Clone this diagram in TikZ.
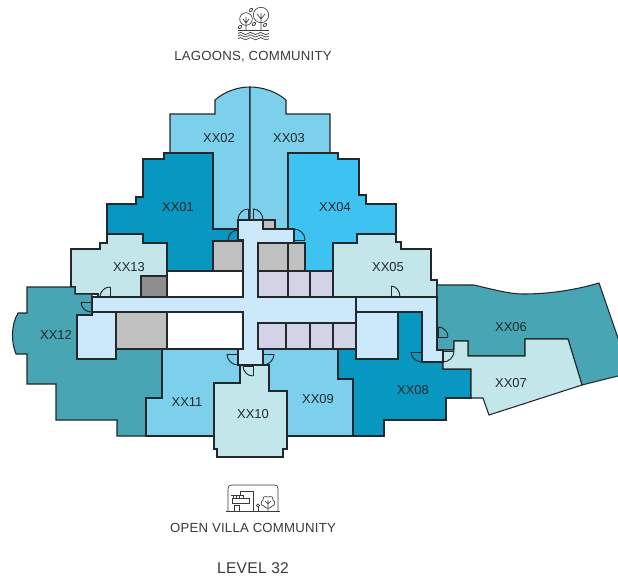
\documentclass[tikz,border=0pt]{standalone}
\usepackage{fontspec}
\setmainfont{Liberation Sans}
\newfontface\capfont[LetterSpace=1.6]{Liberation Sans}
\definecolor{cA}{HTML}{7DD0EC}
\definecolor{cB}{HTML}{0797C1}
\definecolor{cC}{HTML}{3EC2F2}
\definecolor{cD}{HTML}{C2E6E9}
\definecolor{cE}{HTML}{47A5B4}
\definecolor{cF}{HTML}{CBE9FB}
\definecolor{cG}{HTML}{C0C0C0}
\definecolor{cH}{HTML}{8F8C8D}
\definecolor{cI}{HTML}{D2D3E7}
\definecolor{ink}{HTML}{22282B}
\definecolor{txt}{HTML}{3A3A3A}
\tikzset{
  room/.style={draw=ink,line width=0.8pt,line join=miter},
  unitlabel/.style={font=\fontsize{9.7pt}{11pt}\selectfont,text=ink,inner sep=0pt},
  caption/.style={font=\capfont\fontsize{9.9pt}{11pt}\selectfont,text=txt,inner sep=0pt,text depth=0pt},
  icon/.style={draw=txt,line width=0.5pt},
  doorline/.style={draw=ink,line width=0.7pt}
}
\newcommand{\doorq}[6]{%
  \pgfmathsetmacro{\pax}{#3+0.55*(#5-#1)}\pgfmathsetmacro{\pay}{#4+0.55*(#6-#2)}%
  \pgfmathsetmacro{\pbx}{#5+0.55*(#3-#1)}\pgfmathsetmacro{\pby}{#6+0.55*(#4-#2)}%
  \draw[doorline] (#3,#4) -- (#1,#2) -- (#5,#6);
  \draw[doorline] (#3,#4) .. controls (\pax,\pay) and (\pbx,\pby) .. (#5,#6);
}
\begin{document}
\begin{tikzpicture}[x=0.75pt,y=-0.75pt]
\useasboundingbox (0,0) rectangle (618,579);
\clip (0,0) rectangle (618,579);
% units
\draw[room,fill=cA] (250,87) .. controls (237,87) and (224,92) .. (215,100) -- (215,114) -- (170,114) -- (170,153) -- (213,153) -- (213,229) -- (238,229) -- (238,220) -- (250,220) -- cycle;
\draw[room,fill=cA] (250,87) .. controls (263,87) and (277,92) .. (286,100) -- (286,114) -- (330,114) -- (330,153) -- (288,153) -- (288,229) -- (263,229) -- (263,220) -- (250,220) -- cycle;
\draw[room,fill=cB] (164,153) -- (164,159) -- (143,159) -- (143,197) -- (136,197) -- (136,204) -- (107,204) -- (107,234) -- (143,234) -- (143,243) -- (167,243) -- (167,271) -- (213,271) -- (213,241) -- (238,241) -- (238,229) -- (213,229) -- (213,153) -- cycle;
\draw[room,fill=cC] (288,153) -- (338,153) -- (338,159) -- (359,159) -- (359,195) -- (366,195) -- (366,204) -- (396,204) -- (396,234) -- (357,234) -- (357,243) -- (333,243) -- (333,271) -- (305,271) -- (305,243) -- (294,243) -- (294,229) -- (288,229) -- cycle;
\draw[room,fill=cD] (107,234) -- (143,234) -- (143,243) -- (167,243) -- (167,297) -- (98,297) -- (98,294) -- (75,294) -- (75,287) -- (71,287) -- (71,249) -- (100,249) -- (100,243) -- (107,243) -- cycle;
\draw[room,fill=cD] (333,297) -- (333,243) -- (357,243) -- (357,234) -- (396,234) -- (396,242) -- (401,242) -- (401,249) -- (431,249) -- (431,280) -- (437,280) -- (437,297) -- cycle;
\draw[room,fill=cE] (27,287) -- (75,287) -- (75,294) -- (92,294) -- (92,315) -- (77,315) -- (77,359) -- (116,359) -- (116,349) -- (162,349) -- (162,398) -- (146,398) -- (146,436) -- (117,436) -- (117,420) -- (56,420) -- (56,384) -- (27,384) -- (27,354) -- (16,354) .. controls (11,342) and (11,325) .. (18,313) -- (27,313) -- cycle;
\draw[room,fill=cA] (162,349) -- (238,349) -- (238,365) -- (240,365) -- (240,383) -- (214,383) -- (214,436) -- (146,436) -- (146,398) -- (162,398) -- cycle;
\draw[room,fill=cA] (263,349) -- (338,349) -- (338,379) -- (353,379) -- (353,436) -- (287,436) -- (287,391) -- (269,391) -- (269,365) -- (263,365) -- cycle;
\draw[room,fill=cD] (240,365) -- (240,383) -- (214,383) -- (214,449) -- (217,449) -- (217,457) -- (283,457) -- (283,449) -- (287,449) -- (287,391) -- (269,391) -- (269,365) -- cycle;
\draw[room,fill=cB] (338,349) -- (356,349) -- (356,359) -- (398,359) -- (398,312) -- (422,312) -- (422,362) -- (443,362) -- (443,369) -- (471,369) -- (471,398) -- (446,398) -- (446,420) -- (384,420) -- (384,436) -- (353,436) -- (353,379) -- (338,379) -- cycle;
\draw[room,fill=cE] (437,285) -- (474,285) .. controls (495,290) and (510,294) .. (523,294) .. controls (550,294) and (575,290) .. (599,283) -- (618,338) -- (630,373) -- (582,385) -- (568,339) -- (525,339) -- (525,356) -- (468,356) -- (468,341) -- (454,341) -- (454,350) -- (437,350) -- cycle;
\draw[room,fill=cD] (443,350) -- (454,350) -- (454,341) -- (468,341) -- (468,356) -- (525,356) -- (525,339) -- (568,339) -- (582,385) -- (489,415) -- (483,398) -- (471,398) -- (471,369) -- (443,369) -- cycle;
% service rooms
\draw[room,fill=cG] (213,241) rectangle (243,271);
\draw[room,fill=cG] (263,220) rectangle (275,229);
\draw[room,fill=cG] (258,243) rectangle (288,271);
\draw[room,fill=cG] (288,243) rectangle (305,271);
\draw[room,fill=cH] (141,276) rectangle (167,297);
\draw[room,fill=cG] (116,312) rectangle (167,349);
\draw[room,fill=white] (167,271) rectangle (243,297);
\draw[room,fill=white] (167,312) rectangle (243,349);
\draw[room,fill=cI] (258,271) rectangle (288,297);
\draw[room,fill=cI] (288,271) rectangle (310,297);
\draw[room,fill=cI] (310,271) rectangle (333,297);
\draw[room,fill=cI] (258,323) rectangle (286,349);
\draw[room,fill=cI] (286,323) rectangle (310,349);
\draw[room,fill=cI] (310,323) rectangle (333,349);
\draw[room,fill=cI] (333,323) rectangle (356,349);
% corridor
\draw[room,fill=cF] (92,297) -- (243,297) -- (243,240) -- (238,240) -- (238,220) -- (263,220) -- (263,229) -- (294,229) -- (294,243) -- (258,243) -- (258,297) -- (437,297) -- (437,350) -- (443,350) -- (443,362) -- (422,362) -- (422,312) -- (356,312) -- (356,323) -- (258,323) -- (258,349) -- (263,349) -- (263,365) -- (238,365) -- (238,349) -- (243,349) -- (243,312) -- (92,312) -- cycle;
\draw[room] (356,297) -- (356,312);
\draw[room,fill=cF] (77,315) -- (92,315) -- (92,312) -- (116,312) -- (116,359) -- (77,359) -- cycle;
\draw[room,fill=cF] (356,312) rectangle (398,359);
% doors
\doorq{248}{220}{248}{209}{238}{220}
\doorq{253}{220}{253}{209}{263}{220}
\doorq{238}{240}{238}{230}{228}{240}
\doorq{294}{240}{294}{229}{305}{240}
\doorq{110}{297}{110}{287}{100}{297}
\doorq{391}{297}{391}{286}{400}{297}
\doorq{91}{302}{81}{302}{91}{312}
\doorq{238}{354}{227}{354}{238}{365}
\doorq{263}{354}{274}{354}{263}{365}
\doorq{253}{366}{253}{376}{243}{366}
\doorq{422}{352}{411}{352}{422}{362}
\doorq{443}{351}{454}{351}{443}{362}
\doorq{438}{337}{438}{327}{448}{337}
% labels
\node[unitlabel] (u01) at (178,207) {XX01};
\node[unitlabel] (u02) at (219,138) {XX02};
\node[unitlabel] (u03) at (289,138) {XX03};
\node[unitlabel] (u04) at (335,207) {XX04};
\node[unitlabel] (u05) at (388,267) {XX05};
\node[unitlabel] (u06) at (511,327) {XX06};
\node[unitlabel] (u07) at (511,383) {XX07};
\node[unitlabel] (u08) at (413,390) {XX08};
\node[unitlabel] (u09) at (318,399) {XX09};
\node[unitlabel] (u10) at (253,414) {XX10};
\node[unitlabel] (u11) at (187,402) {XX11};
\node[unitlabel] (u12) at (56,335) {XX12};
\node[unitlabel] (u13) at (129,267) {XX13};
\node[caption] (capA) at (253,56.3) {LAGOONS, COMMUNITY};
\node[caption] (capB) at (253,528) {OPEN VILLA COMMUNITY};
\node[caption,font=\capfont\fontsize{11.7pt}{13pt}\selectfont] (capC) at (253,568) {LEVEL 32};
% lagoon icon
\draw[icon] (261,15) circle[radius=7.7];
\draw[icon] (246,19) circle[radius=6.3];
\draw[icon] (261,13) -- (261,30) (257,14) -- (261,19) -- (265,14);
\draw[icon] (246,17) -- (246,30) (243,19) -- (246,23) -- (249,19);
\draw[icon] (238,30.5) -- (269,30.5);
\foreach \wy in {33.5,36,38.7}{
  \draw[icon] (238,\wy) .. controls (240,\wy-1.5) and (241,\wy-1.5) .. (243,\wy) .. controls (245,\wy+1.5) and (246,\wy+1.5) .. (248,\wy) .. controls (250,\wy-1.5) and (251,\wy-1.5) .. (253,\wy) .. controls (255,\wy+1.5) and (256,\wy+1.5) .. (258,\wy) .. controls (260,\wy-1.5) and (261,\wy-1.5) .. (263,\wy) .. controls (265,\wy+1.5) and (267,\wy+1.5) .. (269,\wy);
}
\foreach \lx/\ly in {251/10,240/27,254/24,265/25}{
  \draw[icon,rotate around={45:(\lx,\ly)}] (\lx,\ly) ellipse[x radius=2,y radius=1.3];
}
% villa icon
\draw[icon] (228,511) -- (228,489) .. controls (228,486) and (229,485) .. (232,485) -- (274,485) .. controls (277,485) and (278,486) .. (278,489) -- (278,511);
\draw[icon] (226,511.5) -- (280,511.5);
\draw[icon] (240,495) -- (240,491.5) -- (253,491.5) -- (253,511);
\draw[icon] (231,495) -- (243,495) -- (243,498.5) -- (249,498.5) -- (249,503) -- (232,503) -- (232,498.5) -- (243,498.5);
\draw[icon] (233,495) -- (233,498) (236,495) -- (236,498) (239,495) -- (239,498);
\draw[icon] (234,511) -- (234,505.5) -- (239,505.5) -- (239,511);
\draw[icon] (258,505.5) circle[radius=1.6];
\draw[icon] (258,507) -- (258,511);
\draw[icon] (268,497) .. controls (272,495.5) and (274,498) .. (273,500) .. controls (276,502) and (275,506) .. (272,506) .. controls (271,509) and (265,509) .. (264,506) .. controls (261,506) and (260,502) .. (263,500) .. controls (262,498) and (264,495.5) .. (268,497);
\draw[icon] (268,500) -- (268,511) (265,501) -- (268,504) -- (271,501);
\end{tikzpicture}
\end{document}
